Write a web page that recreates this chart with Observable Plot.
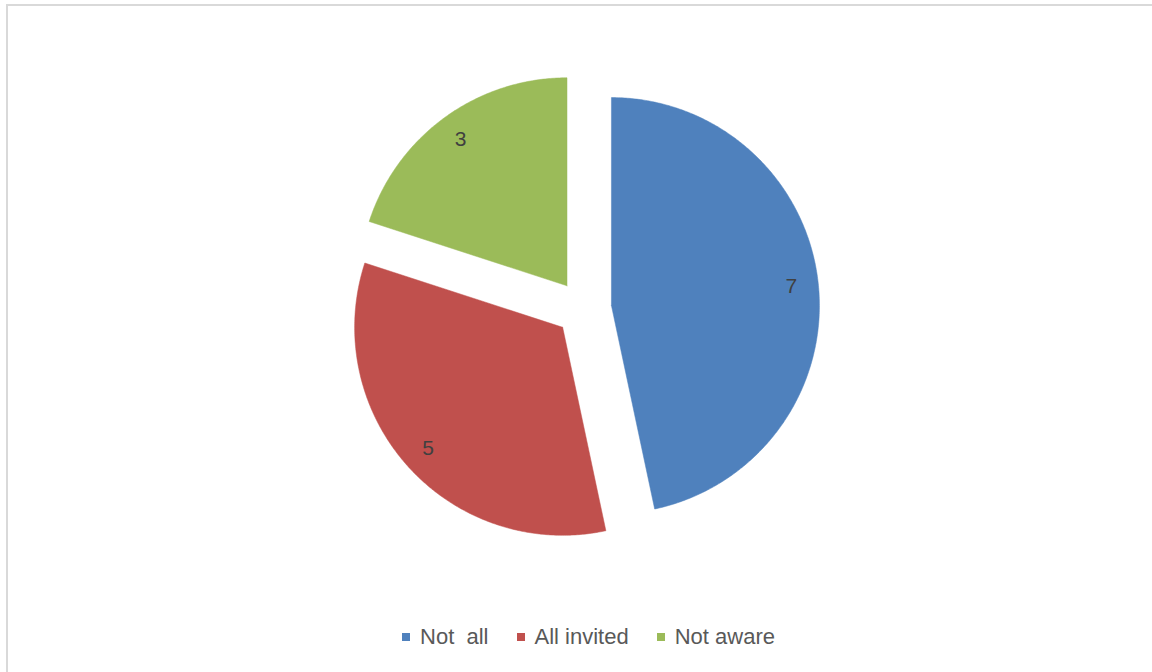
<!DOCTYPE html>
<html>
<head>
<meta charset="utf-8">
<script src="https://cdn.jsdelivr.net/npm/d3@7"></script>
<script src="https://cdn.jsdelivr.net/npm/@observablehq/plot@0.6"></script>
<style>
  html, body { margin: 0; padding: 0; background: #fff; }
  body { width: 1152px; height: 672px; position: relative; overflow: hidden; font-family: "Liberation Sans", Arial, sans-serif; }
  #frame { position: absolute; left: 6px; top: 4px; width: 1170px; height: 700px; border: 2px solid #d9d9d9; box-sizing: border-box; }
  #chart { position: absolute; left: 0; top: 0; }
  #legend { position: absolute; left: 0; width: 1177px; top: 625px; height: 24px; display: flex; justify-content: center; align-items: center; gap: 28px; font-size: 22px; color: #595959; }
  .item { display: flex; align-items: center; gap: 10px; white-space: pre; }
  .sw { width: 8px; height: 8px; display: inline-block; }
</style>
</head>
<body>
<div id="frame"></div>
<div id="chart"></div>
<div id="legend"></div>
<script>
const categories = ["Not  all", "All invited", "Not aware"];
const values = [7, 5, 3];
const colors = ["#4F81BD", "#C0504D", "#9BBB59"];

const explode = 0.135;   // explosion distance, in radius units
const labelR = 0.87;     // label distance from slice apex, in radius units

const pie = d3.pie().sort(null).value(d => d.value).startAngle(0).endAngle(2 * Math.PI);
const arcs = pie(categories.map((c, i) => ({category: c, value: values[i]})));

const polyPoints = [];
const labelPoints = [];
arcs.forEach(a => {
  const mid = (a.startAngle + a.endAngle) / 2;
  const ox = explode * Math.sin(mid), oy = explode * Math.cos(mid);
  polyPoints.push({category: a.data.category, x: ox, y: oy});
  const n = Math.max(2, Math.ceil((a.endAngle - a.startAngle) / (Math.PI / 360)));
  for (let k = 0; k <= n; k++) {
    const t = a.startAngle + (a.endAngle - a.startAngle) * k / n;
    polyPoints.push({category: a.data.category, x: ox + Math.sin(t), y: oy + Math.cos(t)});
  }
  polyPoints.push({category: a.data.category, x: ox, y: oy});
  labelPoints.push({category: a.data.category, value: a.data.value,
    x: ox + labelR * Math.sin(mid), y: oy + labelR * Math.cos(mid)});
});

const W = 1152, H = 615, cx = 583, cy = 308, R = 208;
const chart = Plot.plot({
  width: W, height: H,
  marginLeft: 0, marginRight: 0, marginTop: 0, marginBottom: 0,
  x: {domain: [-cx / R, (W - cx) / R], axis: null},
  y: {domain: [-(H - cy) / R, cy / R], axis: null},
  color: {domain: categories, range: colors},
  style: {background: "transparent", fontFamily: "Liberation Sans, Arial, sans-serif"},
  marks: [
    Plot.line(polyPoints, {x: "x", y: "y", z: "category", fill: "category", stroke: "category", strokeWidth: 0.5, curve: "linear"}),
    Plot.text(labelPoints, {x: "x", y: "y", text: d => String(d.value), fontSize: 21, fill: "#404040"})
  ]
});
document.getElementById("chart").appendChild(chart);

const legend = document.getElementById("legend");
categories.forEach((c, i) => {
  const item = document.createElement("div");
  item.className = "item";
  const sw = document.createElement("span");
  sw.className = "sw";
  sw.style.background = colors[i];
  const tx = document.createElement("span");
  tx.textContent = c;
  item.appendChild(sw);
  item.appendChild(tx);
  legend.appendChild(item);
});
</script>
</body>
</html>
